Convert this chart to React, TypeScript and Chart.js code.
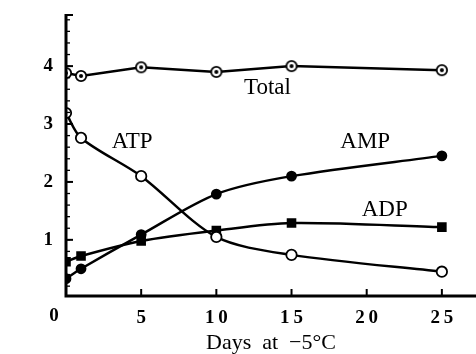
import React, { useEffect, useRef } from "react";
import { Chart, registerables } from "chart.js";

Chart.register(...registerables);

const days = [0, 1, 5, 10, 15, 25];
const totalValues = [3.88, 3.83, 3.98, 3.9, 4.0, 3.93];
const atpValues = [3.19, 2.76, 2.1, 1.05, 0.74, 0.45];
const ampValues = [0.33, 0.5, 1.09, 1.79, 2.1, 2.45];
const adpValues = [0.62, 0.72, 0.98, 1.16, 1.29, 1.22];
const xTickValues = [5, 10, 15, 20, 25];
const yTickValues = [1, 2, 3, 4];
const xAxisTitle = "Days  at  \u22125\u00B0C";

const seriesLabels = [
  { text: "Total", x: 13.4, y: 3.62 },
  { text: "ATP", x: 4.4, y: 2.69 },
  { text: "AMP", x: 19.9, y: 2.69 },
  { text: "ADP", x: 21.2, y: 1.52 },
];

const zip = (xs: number[], ys: number[]) => xs.map((x, i) => ({ x, y: ys[i] }));

function makeTotalMarker() {
  const c = document.createElement("canvas");
  c.width = 14;
  c.height = 14;
  const g = c.getContext("2d")!;
  g.fillStyle = "#fff";
  g.strokeStyle = "#000";
  g.lineWidth = 1.8;
  g.beginPath();
  g.arc(7, 7, 5.2, 0, Math.PI * 2);
  g.fill();
  g.stroke();
  g.fillStyle = "#000";
  g.beginPath();
  g.arc(7, 7, 2, 0, Math.PI * 2);
  g.fill();
  return c;
}

const axesPlugin = {
  id: "paperAxes",
  afterDraw(chart: any) {
    const { ctx, chartArea, scales } = chart;
    const xs = scales.x;
    const ys = scales.y;
    ctx.save();
    ctx.strokeStyle = "#000";
    ctx.lineCap = "butt";
    ctx.lineWidth = 3;
    ctx.beginPath();
    ctx.moveTo(chartArea.left, chartArea.top);
    ctx.lineTo(chartArea.left, chartArea.bottom);
    ctx.lineTo(chartArea.right, chartArea.bottom);
    ctx.stroke();
    ctx.lineWidth = 2;
    ctx.beginPath();
    ctx.moveTo(chartArea.left, chartArea.top + 1);
    ctx.lineTo(chartArea.left + 7, chartArea.top + 1);
    ctx.stroke();
    ctx.lineWidth = 1.3;
    for (let v = 0.2; v < ys.max; v += 0.2) {
      const py = ys.getPixelForValue(v);
      if (py > chartArea.bottom - 3) continue;
      ctx.beginPath();
      ctx.moveTo(chartArea.left, py);
      ctx.lineTo(chartArea.left + 4, py);
      ctx.stroke();
    }
    ctx.lineWidth = 2;
    for (const v of yTickValues) {
      const py = ys.getPixelForValue(v);
      ctx.beginPath();
      ctx.moveTo(chartArea.left, py);
      ctx.lineTo(chartArea.left + 7, py);
      ctx.stroke();
    }
    for (const v of xTickValues) {
      const px = xs.getPixelForValue(v);
      ctx.beginPath();
      ctx.moveTo(px, chartArea.bottom);
      ctx.lineTo(px, chartArea.bottom - 7);
      ctx.stroke();
    }
    ctx.fillStyle = "#000";
    ctx.font = 'bold 19px "Liberation Serif"';
    ctx.textAlign = "center";
    ctx.textBaseline = "middle";
    ctx.fillText("0", chartArea.left - 12, chartArea.bottom + 20);
    ctx.font = '23px "Liberation Serif"';
    for (const l of seriesLabels) {
      ctx.fillText(l.text, xs.getPixelForValue(l.x), ys.getPixelForValue(l.y));
    }
    ctx.restore();
  },
};

export default function App() {
  const ref = useRef<HTMLCanvasElement>(null);
  useEffect(() => {
    document.body.style.margin = "0";
    const totalMarker = makeTotalMarker();
    const common = {
      showLine: true,
      borderColor: "#000",
      borderWidth: 2.5,
      pointBorderColor: "#000",
      pointBorderWidth: 1.8,
    };
    const chart = new Chart(ref.current!, {
      type: "scatter",
      data: {
        datasets: [
          {
            ...common,
            label: "Total",
            data: zip(days, totalValues),
            tension: 0,
            pointStyle: totalMarker as any,
            pointRadius: 6,
          },
          {
            ...common,
            label: "ATP",
            data: zip(days, atpValues),
            tension: 0.3,
            pointStyle: "circle",
            pointRadius: 5.2,
            pointBackgroundColor: "#fff",
          },
          {
            ...common,
            label: "AMP",
            data: zip(days, ampValues),
            tension: 0.3,
            pointStyle: "circle",
            pointRadius: 4.5,
            pointBackgroundColor: "#000",
          },
          {
            ...common,
            label: "ADP",
            data: zip(days, adpValues),
            tension: 0.3,
            pointStyle: "rect",
            pointRadius: 5.5,
            pointBackgroundColor: "#000",
          },
        ],
      } as any,
      options: {
        animation: false,
        responsive: false,
        devicePixelRatio: 1,
        layout: { autoPadding: false, padding: { top: 14, left: 0, right: 0, bottom: 0 } },
        plugins: {
          legend: { display: false },
          tooltip: { enabled: false },
        },
        scales: {
          x: {
            type: "linear",
            min: 0,
            max: 27.27,
            grid: { display: false, drawTicks: false },
            border: { display: false },
            afterBuildTicks: (s: any) => {
              s.ticks = xTickValues.map((v) => ({ value: v }));
            },
            afterFit: (s: any) => {
              s.height = 58;
              s.paddingLeft = 0;
              s.paddingRight = 0;
            },
            ticks: {
              color: "#000",
              padding: 11,
              maxRotation: 0,
              font: { family: "Liberation Serif", size: 19, weight: "bold" },
              callback: (v: any) => String(v).split("").join("\u2009"),
            },
            title: {
              display: true,
              text: xAxisTitle,
              color: "#000",
              font: { family: "Liberation Serif", size: 22, lineHeight: 0.95 },
              padding: { top: 0, bottom: 0 },
            },
          },
          y: {
            type: "linear",
            min: 0.03,
            max: 4.9,
            grid: { display: false, drawTicks: false },
            border: { display: false },
            afterBuildTicks: (s: any) => {
              s.ticks = yTickValues.map((v) => ({ value: v }));
            },
            afterFit: (s: any) => {
              s.width = 66;
              s.paddingTop = 0;
              s.paddingBottom = 0;
            },
            ticks: {
              color: "#000",
              padding: 13,
              font: { family: "Liberation Serif", size: 19, weight: "bold" },
            },
          },
        },
      } as any,
      plugins: [axesPlugin],
    });
    return () => chart.destroy();
  }, []);
  return (
    <div style={{ width: 476, height: 354, background: "#fff" }}>
      <canvas ref={ref} width={476} height={354} />
    </div>
  );
}
